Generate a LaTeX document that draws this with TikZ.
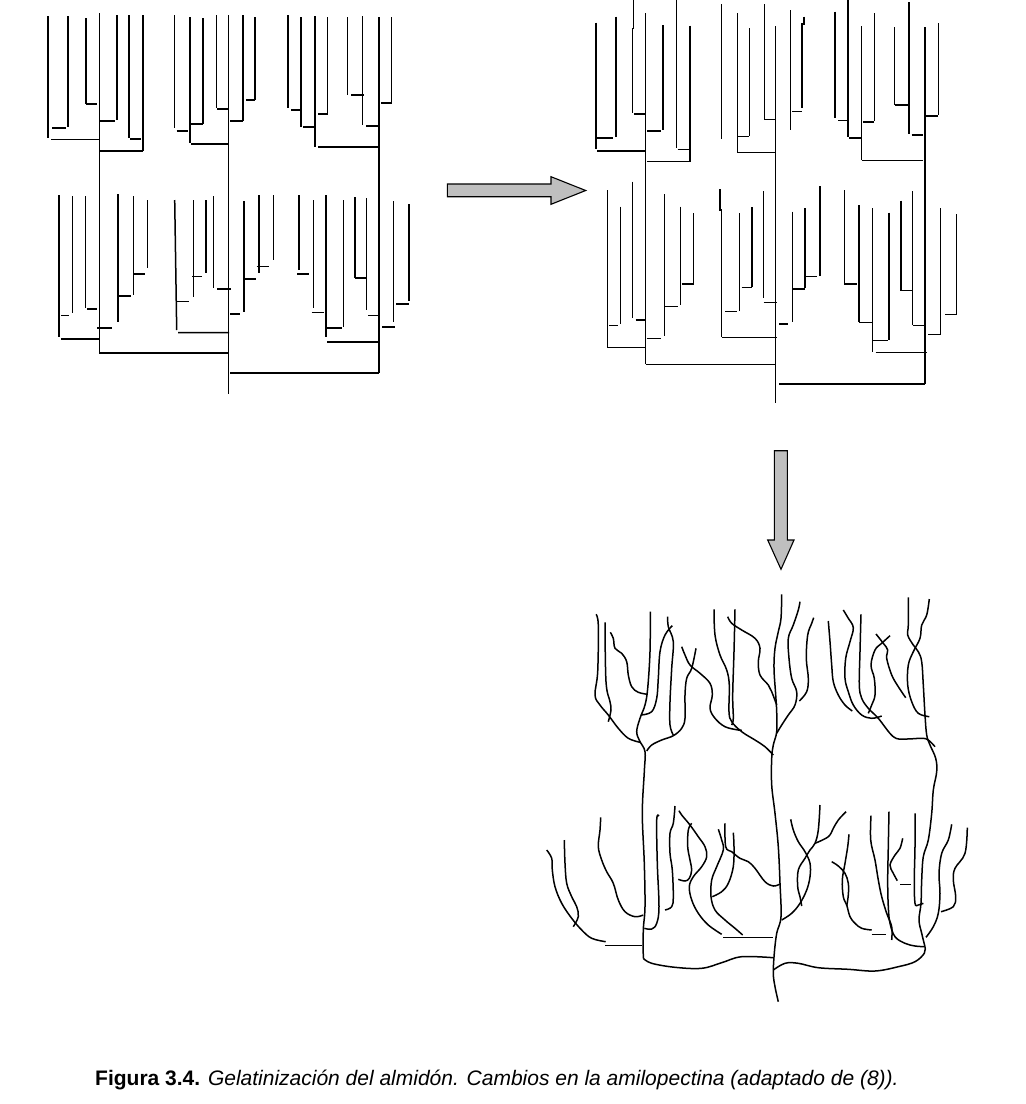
\documentclass[tikz,border=0pt]{standalone}
\usepackage{fontspec}
\setmainfont{Liberation Sans}
\begin{document}
\begin{tikzpicture}[x=1pt,y=-1pt,
  ln/.style={line width=1.5pt,line cap=butt},
  cv/.style={line width=1.5pt,smooth,tension=0.6},
  blockarrow/.style={draw=black,line width=1.1pt,fill=black!25,line join=miter}]
\useasboundingbox (0,0) rectangle (1026,1104);

% ================= left tree =================
\draw[ln] (99.3,13)--(99.3,353) (228.7,15)--(228.7,394) (379,17)--(379,373);
\draw[ln] (99,353)--(229,353) (230,373)--(379,373);
% top-left block
\draw[ln] (48,16)--(48,138) (51,139.5)--(99,139.5);
\draw[ln] (68,16)--(68,127) (52,128)--(66,128);
\draw[ln] (86,18)--(86,104) (86,104)--(97,104);
\draw[ln] (117,15)--(117,120) (100,121)--(115,121);
\draw[ln] (129,15)--(129,138) (130,139)--(141,139);
\draw[ln] (143,15)--(143,151) (99,151)--(143,151);
% top-middle block
\draw[ln] (174.7,15)--(174.7,128) (176.7,131)--(188,131);
\draw[ln] (190,17)--(190,143) (191,144)--(229,144);
\draw[ln] (203,18)--(203,124) (191,124)--(203,124);
\draw[ln] (216.7,15)--(216.7,108) (217,109)--(229,109);
\draw[ln] (243,15)--(243,121) (230,121)--(243,121);
\draw[ln] (255,17)--(255,100) (246,100)--(255,100);
% top-right block
\draw[ln] (288,15)--(288,108) (291,110)--(300,110);
\draw[ln] (301,17)--(301,127) (303,127)--(314,127);
\draw[ln] (315,16)--(315,147) (318,147)--(379,147);
\draw[ln] (327.7,17)--(327.7,113) (318,114)--(328,114);
\draw[ln] (347.7,17)--(347.7,95) (351,95)--(364,95);
\draw[ln] (362.7,16)--(362.7,125) (366,126)--(378,126);
\draw[ln] (391.7,17)--(391.7,103) (381,103)--(392,103);
% bottom blocks
\draw[ln] (59,195)--(59,337) (61,339)--(99,339);
\draw[ln] (72.3,196)--(72.3,313) (61,315.7)--(69,315.7);
\draw[ln] (85.7,196)--(85.7,308) (87,309)--(97,309);
\draw[ln] (118,194)--(118,322) (97,328)--(112,328);
\draw[ln] (133.3,196)--(133.3,295) (118,296)--(131,296);
\draw[ln] (147.7,200)--(147.7,268) (133,274)--(145,274);
\draw[ln] (174.7,200)--(176.7,330) (178,332.7)--(229,332.7);
\draw[ln] (176.7,301.7)--(189,301.7);
\draw[ln] (193.7,200)--(193.7,297) (192,276.7)--(202,276.7);
\draw[ln] (206,200)--(206,273);
\draw[ln] (213.3,196)--(213.3,288) (217,289)--(231,289);
\draw[ln] (244,201)--(244,312) (230,314)--(240,314);
\draw[ln] (244,279)--(256,279);
\draw[ln] (259,195)--(259,273) (256.7,266.7)--(268.7,266.7);
\draw[ln] (273.3,195)--(273.3,260);
\draw[ln] (299,195)--(299,270) (297,274)--(309,274);
\draw[ln] (313.3,200)--(313.3,308) (311.7,312.7)--(323.7,312.7);
\draw[ln] (326,195)--(326,337) (327,342)--(379,342);
\draw[ln] (326.7,328)--(341.7,328);
\draw[ln] (343.3,200)--(343.3,327);
\draw[ln] (355,197)--(355,278) (355,278)--(367,278);
\draw[ln] (366.7,198)--(366.7,310) (368,315.7)--(379,315.7);
\draw[ln] (393.3,201)--(393.3,322) (382,327)--(395,327);
\draw[ln] (409,204)--(409,300.7) (396,304)--(409,304);

% ================= right tree =================
\draw[ln] (645.7,13)--(645.7,364.3) (645.7,364.3)--(775,364.3);
\draw[ln] (775.3,26)--(775.3,403);
\draw[ln] (925,27)--(925,384) (779,384)--(925,384);
% upper-left
\draw[ln] (633.3,0)--(633.3,28.3)--(632.3,28.3)--(632.3,113.3) (634,114)--(645,114);
\draw[ln] (596,22.7)--(596,149) (597,151)--(645,151);
\draw[ln] (616,16.7)--(616,136.7) (597,138)--(613,138);
\draw[ln] (663,25)--(663,130) (647,131)--(661,131);
\draw[ln] (676.7,0)--(676.7,148) (677.7,149.3)--(689,149.3);
\draw[ln] (690,25.7)--(690,161.7) (647,161.7)--(690,161.7);
% upper-middle
\draw[ln] (721.7,4)--(721.7,139);
\draw[ln] (737.3,13)--(737.3,152) (737,152.7)--(775,152.7);
\draw[ln] (749.7,28)--(749.7,136) (738,136.7)--(749,136.7);
\draw[ln] (764.3,4)--(764.3,119) (764,119.3)--(775,119.3);
\draw[ln] (790.3,10)--(790.3,130) (792,111.7)--(802,111.7);
\draw[ln] (804,16.7)--(804,24)--(802,24)--(802,108);
% upper-right
\draw[ln] (835,11.7)--(835,118) (838,120.7)--(847.7,120.7);
\draw[ln] (848,0)--(848,136.7) (849,138)--(861,138);
\draw[ln] (861.7,26)--(861.7,160) (861.7,160.7)--(922.7,160.7);
\draw[ln] (874.7,13)--(874.7,120.7) (863,122)--(873.7,122);
\draw[ln] (894.3,27)--(894.3,105) (895,105)--(908,105);
\draw[ln] (909,2.3)--(909,134) (911.7,135)--(923.3,135);
\draw[ln] (938.3,23)--(938.3,115) (925.7,116)--(938.3,116);
% lower blocks
\draw[ln] (607.3,190)--(607.3,347.3) (607,347.3)--(645,347.3);
\draw[ln] (620.3,206.7)--(620.3,324) (609,325.7)--(617.7,325.7);
\draw[ln] (632.7,181.7)--(632.7,318.3) (635.7,320)--(645,320);
\draw[ln] (664.3,194.3)--(664.3,336) (646.7,338.3)--(661,338.3);
\draw[ln] (680.3,206.7)--(680.3,305) (665,306.7)--(678.3,306.7);
\draw[ln] (693.7,213.3)--(693.7,283.3) (681.7,284)--(693.7,284);
\draw[ln] (720,189)--(720,210)--(721.7,210)--(721.7,336.7) (721.7,337.3)--(776.7,337.3);
\draw[ln] (739.3,213)--(739.3,310.7) (725,311.7)--(736.7,311.7);
\draw[ln] (752,207)--(752,287) (741.7,287.3)--(752,287.3);
\draw[ln] (763.7,191)--(763.7,298.3) (763.7,302.3)--(776.7,302.3);
\draw[ln] (792.3,211.7)--(792.3,321.7) (779,324)--(788.3,324);
\draw[ln] (805,208.3)--(805,288.3) (793.3,289)--(805,289);
\draw[ln] (820,186)--(820,276) (805.7,276.7)--(817.3,276.7);
\draw[ln] (844.3,190)--(844.3,283.3) (844.3,284)--(856.7,284);
\draw[ln] (859,205)--(859,321.7) (859,322.7)--(872.3,322.7);
\draw[ln] (872.3,208.3)--(872.3,351.7) (875.7,352.3)--(926.7,352.3);
\draw[ln] (872.3,340.7)--(887.7,340.7);
\draw[ln] (889,212.7)--(889,340);
\draw[ln] (901,200.7)--(901,290.7) (901,290.7)--(911.7,290.7);
\draw[ln] (912.7,191)--(912.7,325) (912.7,325.3)--(924.3,325.3);
\draw[ln] (940.7,208.3)--(940.7,334) (928.3,334.7)--(940.7,334.7);
\draw[ln] (956.7,214.3)--(956.7,314) (945,314.7)--(956.7,314.7);

% ================= block arrows =================
\draw[blockarrow] (447.3,184)--(551,184)--(551,176.7)--(585.7,190.5)--(551,204.3)--(551,196.7)--(447.3,196.7)--cycle;
\draw[blockarrow] (774.3,450.7)--(787.3,450.7)--(787.3,540)--(794,540)--(781,569.3)--(767.7,540)--(774.3,540)--cycle;

% ================= gelatinised (curvy) structure =================
% upper half
\draw[cv] plot coordinates {(596,614.3) (598.3,625) (597.7,671.7) (595,695) (600,705) (608.3,715) (618.3,728.3) (628.3,738.3) (640,742.3)};
\draw[cv] plot coordinates {(605,622.3) (606,681.7) (610,701.7) (611,710) (608.3,721.7)};
\draw[cv] plot coordinates {(610.3,632.3) (613.3,638.3) (615,648.3) (621.7,653.3) (626.7,661.7) (628.3,675) (631.7,686.7) (638.3,692.3) (647.7,694.3)};
\draw[cv] plot coordinates {(650.3,611.7) (650,651.7) (647.7,688.3) (645,705) (640,718.3) (636.7,731.7) (640,741.7) (645,751.7) (644.3,771.7) (642.3,813.3) (644.3,863.3) (645,906.7) (643.3,930) (643.3,958.3)};
\draw[cv] plot coordinates {(672.3,625.7) (665,635) (660,651.7) (658.3,678.3) (656.7,698.3) (651.7,711.7) (641,715)};
\draw[cv] plot coordinates {(667.7,616.7) (668.3,626.7) (673.3,641.7) (671.7,668.3) (670,701.7) (670,725) (673.3,735)};
\draw[cv] plot coordinates {(646.7,751) (651.7,745) (661.7,740) (673.3,735.7) (681.7,728.3) (685,718.3) (685,695) (686.7,678.3) (691.7,668.3) (696,648.3)};
\draw[cv] plot coordinates {(681.7,646.7) (685,655) (690,665) (700,673.3) (710,683.3) (712.3,695) (710,708.3) (715,718.3) (725,726.7) (738.3,730) (741.7,730)};
\draw[cv] plot coordinates {(714,609.3) (715,635) (720,655) (726.7,670) (729.3,685) (729,711.7) (731.7,721.7) (741.7,731.7) (755,740) (765,746.7) (773.3,755)};
\draw[cv] plot coordinates {(735,609.3) (734,651.7) (732.7,695) (733.3,718.3) (731.7,725)};
\draw[cv] plot coordinates {(727.7,616.7) (731.7,623.3) (741.7,630) (755,638.3) (760,648.3) (758.3,661.7) (760,675) (768.3,685) (771.7,691.7) (776.7,705)};
\draw[cv] plot coordinates {(781.7,594.3) (781,618.3) (778.3,631.7) (775,648.3) (774,668.3) (775.7,695) (776.7,711.7) (776.7,731.7) (773.3,745) (771.7,758.3) (771.7,785) (775,813.3) (778.3,846.7) (780,883.3) (781,916.7) (776.7,933.3) (774.3,953.3) (773.3,973.3) (775,986.7) (778.3,1001.7)};
\draw[cv] plot coordinates {(800,601.7) (798.3,610) (793.3,625) (788.3,638.3) (789,658.3) (791.7,678.3) (796.7,691.7) (795,705) (788.3,715) (781.7,725) (776.7,733.3)};
\draw[cv] plot coordinates {(813.7,617.7) (811.7,623.3) (807.7,635) (806.3,658.3) (808.3,678.3) (806.7,691.7) (799.3,701)};
\draw[cv] plot coordinates {(828.3,621) (830,641.7) (831.7,665) (833.3,681.7) (838.3,695) (845,705) (852.3,711)};
\draw[cv] plot coordinates {(843.3,610) (848.3,618.3) (853.3,627.7) (850,641.7) (845.7,658.3) (845,678.3) (848.3,691.7) (853.3,705) (861.7,715) (871.7,718.3) (881.7,716)};
\draw[cv] plot coordinates {(861,614.3) (860,651.7) (859.3,685) (861.7,698.3) (868.3,708.3) (878.3,718.3) (893.3,736.7) (905,739) (921.7,738.3) (928.3,740) (935,746.7)};
\draw[cv] plot coordinates {(890,635.7) (881.7,643.3) (875,650) (871,665) (874.3,678.3) (875,695) (871.7,705) (868.3,713.3)};
\draw[cv] plot coordinates {(876,634) (883.3,643.3) (887.7,650) (886.7,658.3) (891.7,675) (898.3,686.7) (905.7,697.7)};
\draw[cv] plot coordinates {(908.3,597.3) (908.3,625) (907.7,635) (913.3,645) (918.3,651.7) (921.7,661.7) (923.3,685) (925,715) (926.7,735) (930,745) (935.7,758.3) (936.7,771.7) (933.3,790) (931.7,813.3) (928.3,840) (923.3,856.7) (921.7,880) (921,903.3) (919,920) (921.7,933.3) (925,946.7)};
\draw[cv] plot coordinates {(929.3,599) (926.7,615) (921.7,625) (920,638.3) (913.3,651.7) (908.3,665) (907.7,685) (911.7,701.7) (918.3,713.3) (929.3,716.7)};
% lower half, left part
\draw[cv] plot coordinates {(643.3,958.3) (651.7,963.3) (675,967.3) (701.7,968.3) (721.7,962.7) (741.7,956.7) (773.3,957.7)};
\draw[ln] (605,945.7)--(642.3,945.7) (723.3,937.7)--(773.3,937.7);
\draw[cv] plot coordinates {(546.7,850) (551.7,858.3) (552.3,870) (555,886.7) (561.7,903.3) (571.7,918.3) (581.7,930) (591.7,938.3) (605.7,941.7)};
\draw[cv] plot coordinates {(564.3,840) (565,863.3) (566.7,883.3) (571.7,896.7) (576.7,906.7) (578.3,916.7) (573.3,926.7)};
\draw[cv] plot coordinates {(600.7,817.3) (600,830) (598.3,846.7) (601.7,860) (606.7,871.7) (613.3,883.3) (618.3,900) (625,911.7) (635,916.7) (643.3,915)};
\draw[cv] plot coordinates {(659,816) (656.7,820) (657.3,863.3) (659,906.7) (656.7,923.3) (651.7,929) (644.3,928.3)};
\draw[cv] plot coordinates {(675,806) (673.3,823.3) (670,833.3) (670,853.3) (672.3,870) (673.3,896.7) (671.7,906.7) (665,910)};
\draw[cv] plot coordinates {(679,810.7) (681.7,815) (690,825) (698.3,836.7) (705,846.7) (706.7,856.7) (701.7,866.7) (693.3,876.7) (689.3,886.7) (691.7,900) (698.3,913.3) (708.3,925) (721.7,934.3)};
\draw[cv] plot coordinates {(691.7,823.3) (688.3,830) (687.7,846.7) (690,860) (691.7,870) (689.3,878.3) (685,881) (678.3,879.3)};
\draw[cv] plot coordinates {(718.3,829.3) (721.7,840) (723.3,850) (716.7,866.7) (711.7,880) (711,896.7) (715,910) (725,920) (735,928.3) (742.7,935)};
\draw[cv] plot coordinates {(725,823.3) (725.7,846.7) (731.7,851.7) (740,858.3) (748.3,861.7) (755,868.3) (765,881.7) (773.3,886) (780,884)};
\draw[cv] plot coordinates {(733.3,832.7) (734,846.7) (733.3,866.7) (728.3,883.3) (721.7,891.7) (712.3,896.7)};
% lower half, right part
\draw[cv] plot coordinates {(773.3,970) (785,963.3) (798.3,963.3) (818.3,967.7) (848.3,969.3) (875,971) (898.3,966.7) (915,961.7) (924.3,953.3) (925,946.7)};
\draw[cv] plot coordinates {(820,805) (818.3,830) (815,843.3) (810,850) (805,858.3) (798.3,870) (797.7,886.7) (800,896.7) (801.7,906)};
\draw[cv] plot coordinates {(790.7,819.3) (793.3,830) (798.3,841.7) (805,851.7) (810,863.3) (810,876.7) (806.7,890) (800,903.3) (791.7,913.3) (781.7,920)};
\draw[cv] plot coordinates {(815,843.3) (828.3,836.7) (833.3,828.3) (838.3,820) (846,811.7)};
\draw[cv] plot coordinates {(849,834.3) (847.7,846.7) (845,863.3) (842.3,880) (843.3,896.7) (846.7,905) (850,916.7) (855,923.3) (861.7,928.3) (871.7,930)};
\draw[cv] plot coordinates {(831.7,861.7) (838.3,866) (845,873.3) (848.3,883.3) (848.3,895) (846.7,906)};
\draw[ln] (871.7,934.3)--(885.7,934.3);
\draw[cv] plot coordinates {(871,815.7) (870.7,840) (875,860) (878.3,880) (881.7,896.7) (886.7,913.3) (891.7,926.7) (891.7,940)};
\draw[cv] plot coordinates {(889,811.7) (888.3,846.7) (887.7,880) (888.3,906.7) (890,923.3) (895,936.7) (905,943.3) (915,946) (925,946.7)};
\draw[cv] plot coordinates {(902.7,838.3) (900,848.3) (895,855) (890,865) (893.3,873.3) (897.3,880.7)};
\draw[ln] (900,884.3)--(911,884.3);
\draw[cv] plot coordinates {(915,813.3) (915,846.7) (914.3,880) (915,903.3) (918.3,905) (923.3,903.3)};
\draw[cv] plot coordinates {(951.7,824.3) (948.3,840) (941.7,853.3) (939,873.3) (940,893.3) (938.3,913.3) (933.3,926.7) (926,937.3)};
\draw[cv] plot coordinates {(967.3,827.7) (965,853.3) (955,868.3) (953.3,880) (955.7,896.7) (953.3,906.7) (941,911.7)};

% ================= caption =================
\node[anchor=base west,inner sep=0pt,font=\fontsize{21}{25}\selectfont] (cap) at (95,1085)
  {\textbf{Figura 3.4.} \textit{Gelatinización del almidón. Cambios en la amilopectina (adaptado de (8)).}};
\end{tikzpicture}
\end{document}
